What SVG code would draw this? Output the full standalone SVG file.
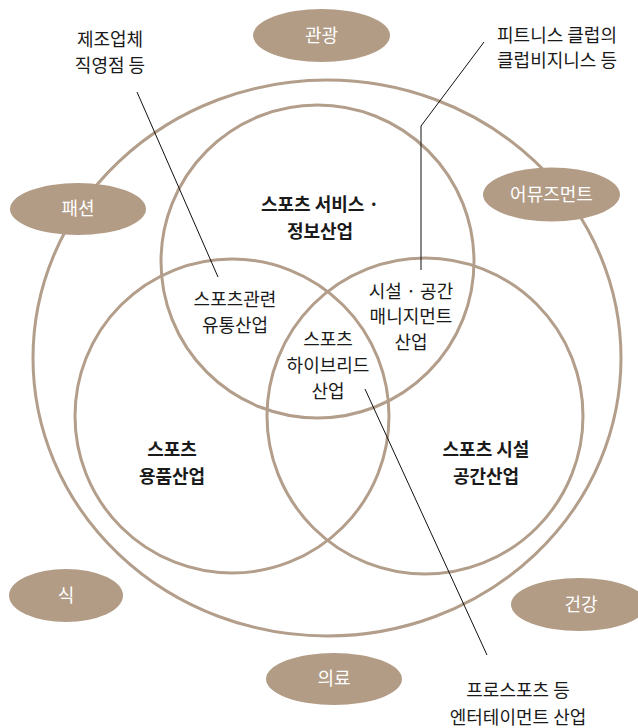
<svg xmlns="http://www.w3.org/2000/svg" width="638" height="728" viewBox="0 0 638 728">
<style>
.ring{fill:none;stroke:#b29e8a;stroke-width:3}
.pill{fill:#b29c86}
.pt{font-family:"Noto Sans CJK KR","Noto Sans",sans-serif;font-size:18px;fill:#ffffff;text-anchor:middle}
.t{font-family:"Noto Sans CJK KR","Noto Sans",sans-serif;font-size:18px;fill:#1a1a1a;text-anchor:middle}
.b{font-weight:bold}
.lead{fill:none;stroke:#111;stroke-width:1}
</style>
<rect width="638" height="728" fill="#ffffff"/>
<g id="outer"><ellipse class="ring" cx="327" cy="358" rx="294" ry="278"/></g>
<g id="service"><circle class="ring" cx="317.5" cy="261.5" r="156.5"/>
<text class="t b" x="320" y="211">스포츠 서비스 ·</text><text class="t b" x="320" y="238">정보산업</text></g>
<g id="goods"><circle class="ring" cx="232" cy="416" r="157"/>
<text class="t b" x="172" y="456">스포츠</text><text class="t b" x="172" y="483">용품산업</text></g>
<g id="facility"><circle class="ring" cx="425" cy="416" r="158"/>
<text class="t b" x="486" y="456">스포츠 시설</text><text class="t b" x="486" y="483">공간산업</text></g>
<g id="distribution"><text class="t" x="235" y="306">스포츠관련</text><text class="t" x="235" y="332">유통산업</text></g>
<g id="management"><text class="t" x="411" y="298">시설 · 공간</text><text class="t" x="411" y="323">매니지먼트</text><text class="t" x="411" y="349">산업</text></g>
<g id="hybrid"><text class="t" x="328" y="346">스포츠</text><text class="t" x="328" y="372">하이브리드</text><text class="t" x="328" y="398">산업</text></g>
<g id="tourism"><ellipse class="pill" cx="321.5" cy="35.5" rx="68.5" ry="26.5"/><text class="pt" x="321.5" y="41.5">관광</text></g>
<g id="fashion"><ellipse class="pill" cx="78" cy="209" rx="68" ry="26"/><text class="pt" x="78" y="215">패션</text></g>
<g id="amusement"><ellipse class="pill" cx="551.5" cy="194.5" rx="68.5" ry="27"/><text class="pt" x="551.5" y="200.5">어뮤즈먼트</text></g>
<g id="food"><ellipse class="pill" cx="66" cy="595.5" rx="57" ry="26.5"/><text class="pt" x="66" y="601.5">식</text></g>
<g id="medical"><ellipse class="pill" cx="334" cy="679" rx="68" ry="26"/><text class="pt" x="334" y="685">의료</text></g>
<g id="health"><ellipse class="pill" cx="579" cy="604.5" rx="68" ry="26.5"/><text class="pt" x="581" y="610.5">건강</text></g>
<g id="note-maker"><text class="t" x="110" y="46">제조업체</text><text class="t" x="110" y="72">직영점 등</text></g>
<g id="note-fitness"><text class="t" x="557" y="42">피트니스 클럽의</text><text class="t" x="557" y="67">클럽비지니스 등</text></g>
<g id="note-pro"><text class="t" x="518" y="697">프로스포츠 등</text><text class="t" x="518" y="724">엔터테이먼트 산업</text></g>
<g id="connectors">
<line class="lead" x1="137" y1="92" x2="218" y2="277"/>
<polyline class="lead" points="484,42 421,126 421,270"/>
<line class="lead" x1="365" y1="389" x2="487" y2="655"/>
</g>
</svg>
